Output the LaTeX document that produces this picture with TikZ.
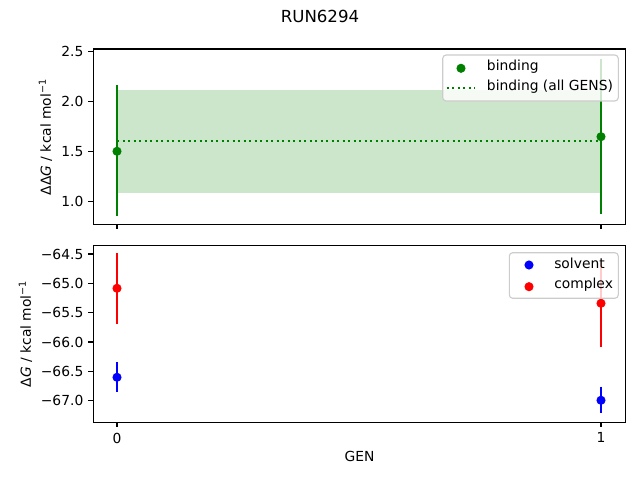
\documentclass[tikz,border=0pt]{standalone}
\usepackage{fontspec}
\setmainfont{DejaVu Sans}
\definecolor{xanhla}{HTML}{008000}
\definecolor{xanh}{HTML}{0000FF}
\definecolor{do}{HTML}{FF0000}
\begin{document}
\begin{tikzpicture}[x=0.01in,y=-0.01in,
	truc/.style={line width=0.8pt},
	vach/.style={line width=0.8pt},
	chu/.style={font=\fontsize{10}{12}\selectfont,inner sep=0pt},
	saiso/.style={line width=1.5pt},
	chamdot/.style={line width=1.5pt,dash pattern=on 1.5pt off 2.475pt},
	khung/.style={rounded corners=2.5pt,fill=white,fill opacity=0.8,draw=black!20,line width=0.8pt}]
			\useasboundingbox (0,0) rectangle (640,480);
			
			% Tiêu đề
			\node[font=\fontsize{12}{14}\selectfont,inner sep=0pt] (tieude) at (320,16.3) {RUN6294};
			
			% Hình trên: dải và đường trung bình
			\fill[xanhla,opacity=0.2] (117,90) rectangle (601,192.7);
			\draw[xanhla,chamdot] (117,140.7) -- (601,140.7);
			
			% Thanh sai số (binding)
			\draw[xanhla,saiso] (117,85) -- (117,216);
			\fill[xanhla] (117,151.3) circle(3.3pt);
			\draw[xanhla,saiso] (601,59) -- (601,214);
			\fill[xanhla] (601,136.7) circle(3.3pt);
			
			% Trục trên
			\draw[truc] (93.3,49) rectangle (625.7,224.3);
			\foreach \y/\t in {51.3/2.5,101.3/2.0,151.3/1.5,201.3/1.0}{
				\draw[vach] (93.3,\y) -- ++(-3.5pt,0);
				\node[chu,anchor=east] at (83.6,\y) {\t};
			}
			\foreach \x in {117,601}
				\draw[vach] (\x,224.3) -- ++(0,-3.5pt);
			\node[chu,rotate=90] (nhantren) at (45.5,137) {ΔΔ\textit{G} / kcal mol\textsuperscript{−1}};
			
			% Chú thích trên
			\draw[khung] (442.7,55) rectangle (618.3,101);
			\fill[xanhla] (461,68.3) circle(3.3pt);
			\node[chu,anchor=west] (binding) at (486.7,66.5) {binding};
			\draw[xanhla,chamdot] (446.7,87.7) -- (474.3,87.7);
			\node[chu,anchor=west] (bindingall) at (486.7,86.7) {binding (all GENS)};
			
			% Hình dưới: thanh sai số
			\draw[do,saiso] (117,253.3) -- (117,324);
			\fill[do] (117,288.3) circle(3.3pt);
			\draw[xanh,saiso] (117,362.3) -- (117,391.7);
			\fill[xanh] (117,377.3) circle(3.3pt);
			\draw[do,saiso] (601,262) -- (601,347.3);
			\fill[do] (601,303.3) circle(3.3pt);
			\draw[xanh,saiso] (601,386.7) -- (601,413.3);
			\fill[xanh] (601,400.3) circle(3.3pt);
			
			% Trục dưới
			\draw[truc] (93.3,245.3) rectangle (625.7,422.3);
			\foreach \y/\t in {254/64.5,283.3/65.0,312.7/65.5,342/66.0,371.3/66.5,400.7/67.0}{
				\draw[vach] (93.3,\y) -- ++(-3.5pt,0);
				\node[chu,anchor=east] at (83.6,\y) {−\t};
			}
			\foreach \x/\t in {117/0,601/1}{
				\draw[vach] (\x,422.3) -- ++(0,-3.5pt);
				\node[chu,anchor=north] at (\x,432.5) {\t};
			}
			\node[chu,rotate=90] (nhanduoi) at (25.5,333.8) {Δ\textit{G} / kcal mol\textsuperscript{−1}};
			\node[chu] (gen) at (359.5,456.7) {GEN};
			
			% Chú thích dưới
			\draw[khung] (509.3,252.7) rectangle (618.3,298.3);
			\fill[xanh] (529,265) circle(3.3pt);
			\node[chu,anchor=west] (solvent) at (554,263.8) {solvent};
			\fill[do] (529,286.7) circle(3.3pt);
			\node[chu,anchor=west] (complex) at (554,284.5) {complex};
\end{tikzpicture}
\end{document}
